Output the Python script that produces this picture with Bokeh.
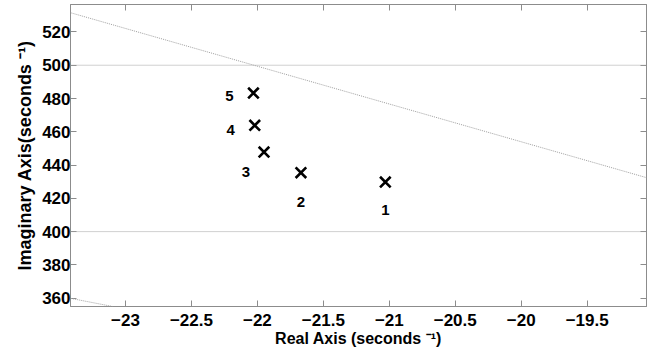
from bokeh.plotting import figure
from bokeh.models import (Range1d, FixedTicker, LinearAxis, Slope, Span, ColumnDataSource,
                          LabelSet, CustomLabelingPolicy)
from bokeh.core.properties import value
from bokeh.embed import file_html
from bokeh.resources import INLINE

# ---- data ----
pole_real = [-21.03, -21.67, -21.95, -22.02, -22.03]
pole_imag = [429.8, 435.4, 447.8, 463.9, 483.3]
pole_labels = ["1", "2", "3", "4", "5"]

x_ticks = [-23, -22.5, -22, -21.5, -21, -20.5, -20, -19.5]
y_ticks = [360, 380, 400, 420, 440, 460, 480, 500, 520]

damping_gradients = [-22.7, -15.37]   # constant-damping lines through origin
wn_levels = [400, 500]                # natural-frequency grid (nearly horizontal here)

# label offsets (px) -- style only
label_dx = [0, 0, -18, -24, -24]
label_dy = [-28, -29, -20, -5, -3]

FONT = "Liberation Sans"
GRAY = "#8c8c8c"
GRID = "#a0a0a0"

p = figure(width=652, height=354,
           x_range=Range1d(-23.417, -19.05), y_range=Range1d(355, 536.5),
           output_backend="svg", toolbar_location=None,
           min_border_left=70, min_border_right=6, min_border_top=4, min_border_bottom=48)
p.title.visible = False
p.grid.grid_line_color = None
p.outline_line_color = GRAY
p.background_fill_color = "white"
p.border_fill_color = "white"

for ax, ticks in ((p.xaxis[0], x_ticks), (p.yaxis[0], y_ticks)):
    ax.ticker = FixedTicker(ticks=ticks)
    ax.major_tick_in = 6
    ax.major_tick_out = 0
    ax.minor_tick_line_color = None
    ax.axis_line_color = GRAY
    ax.major_tick_line_color = GRAY
    ax.major_label_text_font = FONT
    ax.major_label_text_font_style = "bold"
    ax.major_label_text_font_size = "17px"
    ax.major_label_text_color = "black"
    ax.axis_label_text_font = FONT
    ax.axis_label_text_font_style = "bold"
    ax.axis_label_text_color = "black"

p.xaxis[0].axis_label = "Real Axis (seconds \u207b\u00b9)"
p.yaxis[0].axis_label = "Imaginary Axis(seconds \u207b\u00b9)"
p.xaxis[0].axis_label_text_font_size = "16px"
p.yaxis[0].axis_label_text_font_size = "18px"
p.xaxis[0].major_label_standoff = 7
p.xaxis[0].axis_label_standoff = 1
p.yaxis[0].major_label_standoff = 0
p.yaxis[0].axis_label_standoff = 4
p.yaxis[0].major_label_orientation = "horizontal"

hide_all = CustomLabelingPolicy(code="""
    const idx = [...indices]
    for (const i of idx) indices.unset(i)
    return indices
""")
for loc, ticks in (("above", x_ticks), ("right", y_ticks)):
    ax = LinearAxis(ticker=FixedTicker(ticks=ticks), major_label_text_font_size="1px",
                    major_label_policy=hide_all,
                    major_tick_in=6, major_tick_out=0, minor_tick_line_color=None,
                    axis_line_color=GRAY, major_tick_line_color=GRAY, major_label_standoff=0)
    p.add_layout(ax, loc)

for g in damping_gradients:
    p.add_layout(Slope(gradient=g, y_intercept=0, line_color=GRID, line_dash="1 1", line_width=1))
for w in wn_levels:
    p.add_layout(Span(location=w, dimension="width", line_color=GRID, line_dash="1 1", line_width=1))

src = ColumnDataSource(dict(x=pole_real, y=pole_imag, t=pole_labels, dx=label_dx, dy=label_dy))
p.scatter("x", "y", source=src, marker="x", size=15, line_width=2.6, line_color="black")
p.add_layout(LabelSet(x="x", y="y", text="t", source=src, x_offset="dx", y_offset="dy",
                      text_font=value(FONT), text_font_style="bold", text_font_size="15px",
                      text_align="center", text_baseline="middle", text_color="black"))

open("out.html", "w").write(file_html(p, INLINE))
